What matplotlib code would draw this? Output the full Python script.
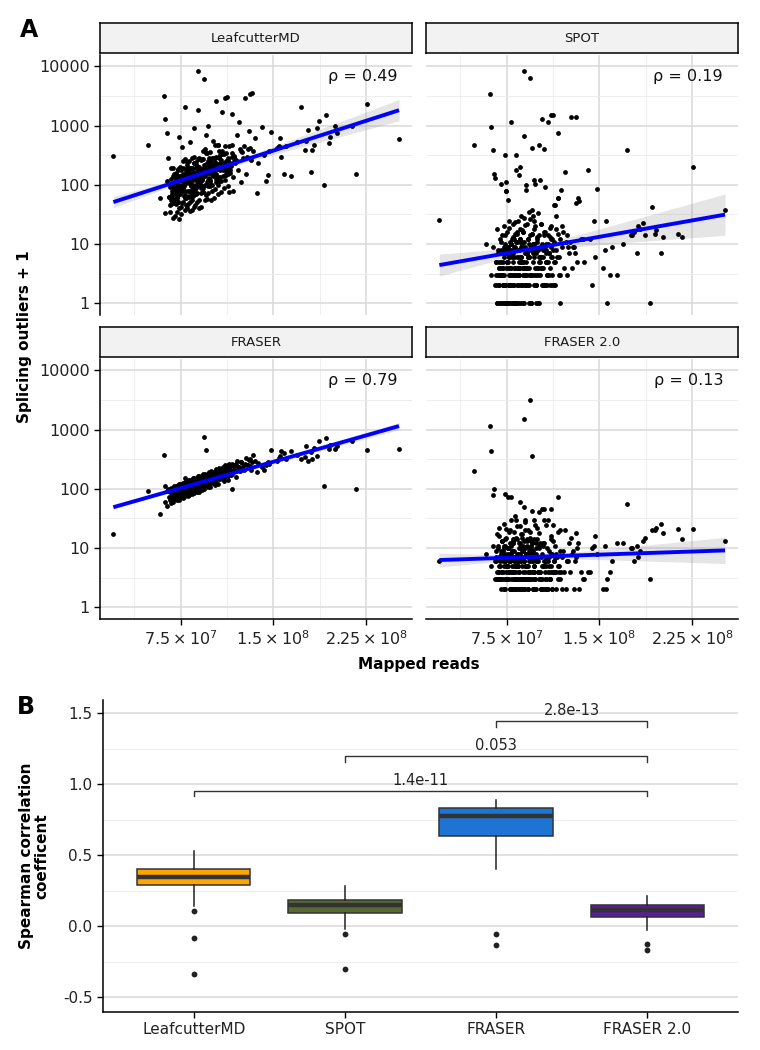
import numpy as np
import matplotlib.pyplot as plt
from matplotlib.ticker import FixedLocator, NullFormatter

# ---------------- data (panel A) ----------------
# mapped reads per sample, in millions (dense core, high outliers, sparse high-depth)
reads_m = [
    62.4, 64.1, 65.3, 66.0, 66.8, 67.5, 68.2, 68.9, 69.4, 69.8,
    70.3, 70.9, 71.4, 71.8, 72.2, 72.7, 73.1, 73.5, 73.9, 74.4,
    74.8, 75.2, 75.7, 76.1, 76.5, 76.9, 77.3, 77.8, 78.2, 78.6,
    79.0, 79.4, 79.9, 80.3, 80.6, 81.0, 81.4, 81.8, 82.1, 82.5,
    82.9, 83.3, 83.6, 84.0, 84.4, 84.8, 85.1, 85.5, 85.9, 86.3,
    86.7, 87.0, 87.4, 87.8, 88.2, 88.6, 89.0, 89.3, 89.7, 90.2,
    90.6, 91.1, 91.5, 92.0, 92.4, 92.9, 93.3, 93.8, 94.3, 94.7,
    95.2, 95.7, 96.1, 96.6, 97.1, 97.6, 98.1, 98.6, 99.2, 99.7,
    100.3, 100.9, 101.6, 102.2, 102.9, 103.5, 104.2, 104.9, 105.6, 106.4,
    107.1, 107.9, 108.7, 109.5, 110.3, 111.2, 112.0, 112.9, 113.8, 114.7,
    115.6, 116.6, 117.5, 118.5, 119.6, 120.6, 121.7, 122.9, 124.0, 125.2,
    126.5, 127.8, 129.2, 130.6, 132.1, 133.6, 135.2, 137.8, 66.3, 71.0,
    75.0, 79.6, 83.0, 86.0, 89.5, 93.0, 97.0, 101.0, 105.0, 110.0,
    68.5, 72.5, 76.3, 80.8, 84.6, 88.0, 91.8, 96.0, 103.0, 115.0,
    66.2, 67.1, 67.9, 68.6, 69.1, 69.6, 70.1, 70.6, 71.2, 71.6,
    72.0, 72.4, 72.9, 73.3, 73.7, 74.1, 74.6, 75.0, 75.4, 75.9,
    76.3, 76.7, 77.1, 77.5, 78.0, 78.4, 78.8, 79.2, 79.7, 80.1,
    80.4, 80.8, 81.2, 81.6, 82.0, 82.3, 82.7, 83.1, 83.5, 83.8,
    84.2, 84.6, 85.0, 85.3, 85.7, 86.1, 86.5, 86.9, 87.2, 87.6,
    88.0, 88.4, 88.8, 89.2, 89.5, 89.9, 90.4, 90.8, 91.3, 91.7,
    92.2, 92.6, 93.1, 93.5, 94.0, 94.5, 94.9, 95.4, 95.9, 96.4,
    96.9, 97.4, 97.9, 98.4, 98.9, 99.4, 100.0, 100.6, 101.3, 101.9,
    102.5, 103.2, 103.9, 104.6, 105.3, 106.0, 106.8, 107.5, 108.3, 109.1,
    110.0, 110.8, 111.6, 112.5, 113.4, 114.3, 115.2, 116.1, 117.0, 118.0,
    67.0, 69.0, 71.5, 73.0, 74.0, 75.5, 77.0, 78.5, 80.0, 81.5,
    83.2, 84.9, 86.6, 88.3, 90.0, 91.6, 93.4, 95.0, 96.8, 98.7,
    100.5, 102.6, 104.5, 106.7, 108.9, 111.0, 113.1, 119.0, 123.5, 128.5,
    68.0, 70.5, 72.8, 75.3, 77.6, 79.8, 82.2, 84.3, 86.4, 88.5,
    90.7, 92.8, 94.9, 97.2, 99.5, 101.8, 104.0, 106.2, 109.8, 113.6,
    69.3, 71.9, 74.2, 76.6, 78.9, 81.1, 83.4, 85.6, 87.9, 90.1,
    92.5, 94.6, 96.7, 98.8, 100.9, 103.4, 105.9, 108.0, 111.9, 116.3,
    70.8, 73.4, 76.0, 78.3, 80.6, 82.9, 85.2, 87.5, 89.8, 92.1,
    94.2, 96.3, 98.5, 100.7, 103.0, 105.4, 107.8, 110.5, 114.0, 120.0,
    65.6, 68.8, 72.2, 75.7, 79.1, 82.6, 86.2, 89.6, 93.2, 97.8,
    102.0, 106.5, 111.4, 117.8, 124.5, 131.0, 71.3, 77.9, 84.0, 91.0,
    # high outlier samples
    78.8, 88.9, 93.7, 103.8, 108.5, 111.2, 112.2, 116.7, 122.0, 127.0,
    130.8, 132.3, 95.2, 101.4, 105.0, 73.9, 82.3, 65.0, 76.2, 62.5,
    95.3, 97.0, 86.0, 88.6,
    # sparse samples
    20.5, 48.3, 58.3, 61.7, 63.9, 136.7, 140.5, 142.0, 143.7, 145.3,
    146.6, 147.8, 152.7, 154.2, 155.0, 156.0, 158.8, 160.0, 164.5, 169.0,
    172.3, 175.8, 176.4, 177.7, 180.4, 181.0, 182.6, 185.3, 187.0, 191.2,
    192.5, 195.2, 195.8, 199.8, 201.7, 213.6, 216.8, 226.0, 251.6,
]

leafcutter_y = [
    34, 118, 62, 92, 190, 48, 80, 28, 150, 56,
    95, 48, 130, 80, 35, 185, 68, 118, 27, 92,
    82, 175, 50, 120, 98, 250, 64, 145, 37, 105,
    145, 46, 125, 240, 78, 110, 185, 63, 133, 36,
    52, 190, 95, 145, 285, 72, 120, 42, 230, 85,
    140, 70, 195, 115, 52, 270, 100, 170, 40, 135,
    120, 260, 72, 180, 145, 380, 95, 215, 55, 155,
    210, 68, 180, 350, 115, 160, 280, 95, 200, 55,
    80, 290, 145, 215, 470, 110, 185, 70, 370, 135,
    230, 115, 330, 195, 90, 450, 170, 290, 75, 230,
    210, 480, 135, 310, 255, 700, 175, 400, 110, 290,
    450, 150, 400, 800, 260, 370, 620, 230, 45, 120,
    135, 60, 155, 230, 105, 75, 250, 140, 100, 330,
    58, 130, 80, 165, 65, 205, 115, 190, 280, 160,
    35, 125, 64, 95, 195, 50, 82, 30, 160, 60,
    100, 52, 140, 85, 40, 200, 70, 120, 32, 96,
    84, 190, 52, 128, 102, 270, 68, 150, 40, 110,
    150, 47, 128, 250, 80, 112, 195, 66, 140, 38,
    55, 195, 98, 150, 300, 74, 125, 45, 240, 90,
    145, 72, 200, 120, 55, 280, 105, 175, 42, 140,
    125, 270, 75, 190, 150, 400, 100, 225, 58, 160,
    220, 72, 190, 360, 120, 170, 290, 100, 210, 60,
    85, 300, 150, 225, 480, 115, 195, 75, 380, 140,
    235, 120, 340, 200, 95, 460, 180, 300, 80, 250,
    55, 140, 70, 180, 95, 42, 150, 80, 220, 65,
    100, 165, 72, 210, 130, 88, 270, 140, 200, 110,
    160, 240, 120, 320, 175, 145, 260, 230, 380, 300,
    70, 112, 52, 140, 95, 190, 125, 78, 160, 105,
    135, 90, 205, 120, 255, 165, 110, 300, 215, 150,
    100, 62, 125, 90, 170, 112, 80, 155, 95, 200,
    120, 180, 95, 230, 160, 125, 290, 200, 145, 340,
    82, 140, 100, 60, 125, 160, 90, 135, 110, 185,
    160, 110, 215, 150, 190, 135, 265, 210, 175, 260,
    62, 92, 118, 80, 138, 105, 155, 115, 170, 130,
    210, 175, 250, 300, 360, 420, 95, 110, 125, 150,
    2050, 8400, 6200, 2580, 1730, 2970, 3100, 1560, 1170, 2970,
    3390, 3540, 700, 560, 480, 650, 520, 280, 430, 1300,
    350, 1000, 900, 1860,
    310, 470, 60, 3200, 760, 73, 940, 320, 117, 147,
    380, 790, 420, 460, 614, 293, 152, 445, 140, 520,
    2080, 390, 560, 830, 167, 390, 465, 930, 1200, 98,
    1500, 516, 650, 990, 750, 1000, 152, 2350, 600,
]

spot_y = [
    3, 9, 2, 5, 18, 1, 7, 4, 12, 3,
    8, 1, 14, 4, 2, 20, 6, 10, 1, 7,
    4, 16, 1, 9, 6, 25, 3, 11, 2, 8,
    12, 3, 7, 22, 4, 6, 15, 1, 9, 3,
    1, 16, 4, 8, 25, 3, 6, 2, 12, 5,
    9, 2, 17, 5, 1, 28, 4, 11, 2, 7,
    5, 22, 3, 12, 8, 35, 2, 14, 1, 9,
    15, 3, 10, 30, 6, 8, 20, 2, 12, 4,
    3, 14, 6, 9, 22, 4, 8, 2, 16, 5,
    10, 3, 14, 7, 2, 20, 6, 11, 2, 8,
    6, 15, 3, 1, 9, 16, 4, 11, 3, 7,
    11, 4, 9, 7, 5, 54, 12, 5, 5, 4,
    8, 1, 11, 18, 3, 6, 25, 1, 9, 13,
    2, 9, 1, 12, 4, 16, 7, 10, 22, 30,
    3, 1, 8, 2, 5, 1, 11, 104, 4, 2,
    7, 1, 3, 14, 2, 114, 80, 5, 1, 9,
    2, 6, 19, 1, 4, 10, 3, 7, 1, 13,
    5, 2, 9, 24, 3, 178, 1, 6, 15, 4,
    2, 149, 8, 1, 12, 4, 30, 6, 2, 10,
    5, 16, 3, 1, 9, 21, 98, 81, 4, 7,
    12, 2, 6, 27, 3, 9, 1, 15, 5, 8,
    3, 18, 102, 7, 2, 11, 33, 4, 6, 121,
    6, 2, 9, 4, 14, 92, 5, 2, 10, 7,
    4, 12, 2, 8, 5, 45, 18, 61, 6, 3,
    2, 4, 3, 8, 1, 5, 3, 10, 2, 4,
    2, 5, 1, 3, 7, 2, 4, 1, 10, 3,
    1, 4, 2, 7, 3, 6, 2, 81, 14, 9,
    3, 5, 1, 7, 4, 2, 11, 3, 6, 4,
    4, 1, 8, 2, 13, 3, 6, 2, 19, 45,
    1, 5, 80, 2, 7, 3, 1, 11, 4, 2,
    6, 3, 10, 1, 5, 10, 2, 5, 12, 61,
    3, 2, 5, 4, 1, 8, 3, 11, 4, 6,
    3, 7, 2, 8, 4, 16, 3, 9, 5, 20,
    133, 3, 2, 4, 6, 1, 5, 3, 10, 4,
    5, 8, 3, 12, 9, 50, 3, 2, 4, 7,
    1140, 8400, 6450, 1290, 1170, 1500, 1500, 750, 165, 1410,
    1410, 60, 425, 470, 405, 316, 316, 150, 55, 940,
    38, 120, 200, 670,
    26, 465, 10, 3400, 390, 12, 177, 12, 2, 25,
    6, 86, 4, 8, 25, 1, 3, 9, 3, 10,
    385, 14, 14, 16, 7, 20, 18, 23, 14, 1,
    42, 15, 17, 7, 13, 15, 13, 203, 38,
]

fraser_y = [
    60, 92, 72, 88, 58, 104, 82, 71, 98, 82,
    98, 70, 108, 83, 66, 118, 89, 78, 104, 87,
    76, 115, 88, 106, 70, 128, 98, 86, 118, 97,
    84, 126, 97, 115, 77, 142, 108, 93, 128, 104,
    90, 136, 104, 124, 83, 152, 116, 100, 137, 112,
    97, 146, 112, 134, 89, 163, 125, 108, 148, 122,
    106, 158, 122, 146, 97, 178, 136, 118, 162, 133,
    115, 172, 133, 160, 106, 194, 150, 130, 178, 147,
    127, 190, 147, 176, 118, 217, 166, 145, 200, 166,
    145, 218, 168, 203, 134, 250, 192, 167, 230, 198,
    172, 260, 198, 240, 160, 296, 232, 200, 280, 240,
    211, 330, 250, 305, 210, 375, 296, 275, 70, 104,
    115, 84, 130, 104, 150, 112, 170, 135, 200, 160,
    70, 108, 82, 125, 96, 145, 112, 168, 140, 245,
    64, 96, 74, 90, 60, 110, 84, 72, 104, 84,
    71, 108, 82, 100, 66, 120, 90, 78, 112, 92,
    79, 118, 91, 108, 72, 130, 100, 86, 120, 100,
    85, 128, 98, 118, 78, 142, 108, 94, 130, 108,
    92, 138, 106, 127, 84, 153, 116, 101, 140, 117,
    99, 149, 114, 137, 90, 165, 127, 110, 150, 126,
    108, 162, 124, 150, 98, 180, 138, 120, 164, 138,
    118, 178, 136, 164, 108, 200, 152, 133, 183, 155,
    132, 200, 154, 185, 122, 226, 172, 152, 210, 176,
    153, 232, 178, 214, 142, 265, 205, 180, 246, 212,
    100, 68, 112, 78, 106, 72, 120, 85, 124, 92,
    92, 136, 100, 150, 104, 160, 118, 170, 125, 180,
    190, 140, 210, 150, 230, 165, 255, 210, 290, 250,
    95, 74, 110, 82, 120, 90, 132, 98, 140, 108,
    110, 160, 122, 175, 130, 195, 150, 210, 160, 235,
    68, 104, 76, 112, 85, 125, 95, 138, 104, 150,
    150, 118, 165, 130, 182, 145, 205, 160, 225, 190,
    100, 78, 112, 86, 122, 96, 135, 104, 148, 115,
    122, 170, 135, 185, 145, 205, 160, 225, 180, 265,
    92, 70, 104, 80, 118, 90, 132, 102, 148, 118,
    140, 205, 170, 250, 220, 320, 78, 118, 100, 150,
    150, 140, 750, 170, 190, 200, 185, 100, 230, 260,
    240, 290, 452, 160, 175, 120, 130, 100, 95, 110,
    135, 150, 120, 130,
    17, 91, 37, 380, 51, 190, 230, 210, 250, 280,
    260, 447, 300, 330, 360, 436, 400, 320, 436, 380,
    314, 340, 525, 300, 420, 322, 500, 357, 645, 114,
    720, 475, 560, 475, 520, 645, 100, 452, 465,
]

fraser2_y = [
    5, 11, 3, 7, 17, 4, 10, 22, 3, 6,
    9, 4, 13, 3, 6, 26, 5, 11, 3, 15,
    7, 3, 10, 5, 19, 4, 12, 6, 30, 2,
    9, 4, 12, 3, 6, 19, 2, 7, 35, 5,
    3, 8, 14, 2, 5, 10, 4, 24, 6, 11,
    2, 7, 17, 4, 9, 3, 13, 6, 30, 5,
    8, 3, 11, 2, 20, 6, 4, 15, 7, 9,
    4, 12, 2, 8, 5, 25, 3, 10, 6, 14,
    7, 3, 12, 4, 2, 8, 5, 30, 3, 6,
    5, 10, 2, 7, 3, 16, 2, 6, 11, 4,
    7, 3, 5, 20, 2, 9, 4, 2, 6, 12,
    4, 8, 2, 6, 10, 2, 4, 3, 9, 13,
    3, 7, 5, 12, 2, 9, 4, 18, 6, 3,
    5, 2, 10, 4, 7, 3, 13, 6, 2, 8,
    6, 3, 11, 4, 16, 5, 8, 2, 13, 7,
    4, 10, 2, 14, 6, 5, 21, 3, 8, 3,
    10, 4, 6, 2, 20, 3, 8, 5, 2, 13,
    4, 9, 3, 7, 2, 15, 5, 24, 3, 6,
    8, 2, 12, 4, 6, 3, 17, 2, 9, 5,
    3, 11, 6, 2, 28, 4, 8, 3, 14, 5,
    7, 2, 10, 4, 19, 3, 6, 12, 2, 9,
    5, 14, 3, 8, 2, 22, 4, 7, 11, 3,
    7, 3, 5, 2, 12, 4, 25, 2, 6, 9,
    3, 5, 2, 13, 4, 7, 2, 19, 4, 3,
    3, 7, 4, 11, 2, 5, 8, 4, 14, 6,
    6, 3, 10, 2, 5, 8, 3, 13, 4, 7,
    6, 3, 11, 2, 5, 8, 4, 4, 6, 9,
    4, 3, 8, 5, 2, 12, 4, 7, 3, 9,
    5, 3, 11, 2, 7, 3, 12, 2, 4, 6,
    3, 9, 4, 6, 2, 14, 5, 8, 3, 20,
    4, 10, 2, 6, 10, 2, 6, 4, 8, 5,
    4, 6, 3, 11, 5, 2, 7, 15, 3, 5,
    8, 3, 12, 4, 2, 5, 3, 14, 4, 7,
    6, 3, 8, 4, 9, 3, 6, 10, 3, 7,
    4, 7, 4, 9, 6, 7, 4, 6, 5, 8,
    72, 1540, 3140, 46, 30, 46, 25, 74, 20, 15,
    18, 12, 356, 40, 46, 83, 30, 100, 72, 436,
    42, 30, 60, 50,
    6, 200, 8, 1150, 79, 3, 4, 4, 10, 11,
    16, 8, 2, 11, 2, 3, 4, 6, 12, 12,
    55, 10, 10, 6, 11, 7, 9, 13, 15, 3,
    20, 20, 22, 26, 18, 21, 14, 21, 13,
]

methods = ["LeafcutterMD", "SPOT", "FRASER", "FRASER 2.0"]
rho_labels = ["0.49", "0.19", "0.79", "0.13"]
x_ticks = [7.5e7, 1.5e8, 2.25e8]
x_ticklabels = [r"$7.5\times10^{7}$", r"$1.5\times10^{8}$", r"$2.25\times10^{8}$"]
y_ticks = [1, 10, 100, 1000, 10000]

# ---------------- data (panel B) ----------------
rho_leafcutter = [-0.338, -0.082, 0.105, 0.141, 0.22, 0.289, 0.30, 0.32, 0.33, 0.34, 0.35,
                  0.36, 0.37, 0.38, 0.395, 0.406, 0.42, 0.44, 0.47, 0.50, 0.528]
rho_spot = [-0.305, -0.054, -0.023, 0.03, 0.07, 0.092, 0.10, 0.115, 0.13, 0.14, 0.15,
            0.155, 0.16, 0.17, 0.18, 0.186, 0.20, 0.22, 0.24, 0.26, 0.286]
rho_fraser = [-0.134, -0.054, 0.406, 0.50, 0.58, 0.634, 0.66, 0.70, 0.73, 0.755, 0.775,
              0.785, 0.795, 0.805, 0.82, 0.831, 0.845, 0.855, 0.865, 0.88, 0.892]
rho_fraser2 = [-0.171, -0.124, -0.028, 0.01, 0.04, 0.063, 0.075, 0.085, 0.095, 0.105, 0.115,
               0.12, 0.128, 0.135, 0.145, 0.153, 0.165, 0.175, 0.19, 0.20, 0.211]
box_colors = ["#FFA500", "#556B2F", "#1E74D2", "#5A1E9C"]
# (group i, group j, bracket height, label)
comparisons = [(1, 4, 0.955, "1.4e-11"), (2, 4, 1.20, "0.053"), (3, 4, 1.448, "2.8e-13")]

# ---------------- figure ----------------
W, H = 760, 1050
fig = plt.figure(figsize=(W / 100, H / 100), dpi=100)


def px_axes(l, t, r, b):
    return fig.add_axes([l / W, 1 - b / H, (r - l) / W, (b - t) / H])


x = np.array(reads_m) * 1e6
ys = [leafcutter_y, spot_y, fraser_y, fraser2_y]
cols = [(100, 412), (426, 738)]
rows = [(55, 315), (359, 619)]

for k, (name, yv, rho) in enumerate(zip(methods, ys, rho_labels)):
    r, c = divmod(k, 2)
    l, rr = cols[c]
    t, b = rows[r]
    ax = px_axes(l, t, rr, b)
    y = np.array(yv, dtype=float)

    ax.set_yscale("log")
    ax.set_xlim(9.7e6, 262.1e6)
    ax.set_ylim(10 ** -0.198, 10 ** 4.194)
    ax.xaxis.set_major_locator(FixedLocator(x_ticks))
    ax.xaxis.set_minor_locator(FixedLocator([3.75e7, 1.125e8, 1.875e8, 2.625e8]))
    ax.yaxis.set_major_locator(FixedLocator(y_ticks))
    ax.yaxis.set_minor_locator(FixedLocator([10 ** (v + 0.5) for v in range(-1, 5)]))
    ax.yaxis.set_minor_formatter(NullFormatter())
    ax.set_xticklabels(x_ticklabels)
    ax.set_yticklabels([str(v) for v in y_ticks])
    ax.grid(which="major", color="#D9D9D9", lw=1.1)
    ax.grid(which="minor", color="#EBEBEB", lw=0.6)
    ax.set_axisbelow(True)
    ax.tick_params(which="minor", length=0)
    ax.tick_params(which="major", length=4, width=1, color="black",
                   labelsize=11.5, labelcolor="#222222")
    for s in ax.spines.values():
        s.set_visible(False)
    if c == 0:
        ax.spines["left"].set_visible(True)
        ax.spines["left"].set_linewidth(1.1)
    else:
        ax.tick_params(left=False, labelleft=False)
    if r == 1:
        ax.spines["bottom"].set_visible(True)
        ax.spines["bottom"].set_linewidth(1.1)
    else:
        ax.tick_params(bottom=False, labelbottom=False)

    # linear fit on the log10 scale with a 95% band
    ly = np.log10(y)
    slope, icpt = np.polyfit(x, ly, 1)
    xg = np.linspace(x.min(), x.max(), 80)
    n = len(x)
    resid = ly - (slope * x + icpt)
    s_err = np.sqrt(np.sum(resid ** 2) / (n - 2))
    se = s_err * np.sqrt(1 / n + (xg - x.mean()) ** 2 / np.sum((x - x.mean()) ** 2))
    fit = slope * xg + icpt
    ax.fill_between(xg, 10 ** (fit - 1.97 * se), 10 ** (fit + 1.97 * se),
                    color="#999999", alpha=0.25, lw=0, zorder=2)
    ax.scatter(x, y, s=12, color="black", linewidths=0, zorder=3)
    ax.plot(xg, 10 ** fit, color="#0000FF", lw=2.8, zorder=4, solid_capstyle="butt")
    ax.text(0.952, 0.918, "\u03c1 = " + rho, transform=ax.transAxes,
            ha="right", va="center", fontsize=11.5, color="#111111")

    st = px_axes(l, t - 32, rr, t - 2)
    st.set_facecolor("#F2F2F2")
    st.set_xticks([])
    st.set_yticks([])
    for s in st.spines.values():
        s.set_linewidth(1.1)
        s.set_color("black")
    st.text(0.5, 0.5, name, ha="center", va="center", fontsize=9.5, color="#1A1A1A")

fig.text(25 / W, 1 - 337 / H, "Splicing outliers + 1", rotation=90, ha="center",
         va="center", fontsize=11, fontweight="bold")
fig.text(419 / W, 1 - 665 / H, "Mapped reads", ha="center", va="center",
         fontsize=11, fontweight="bold")
fig.text(29 / W, 1 - 30 / H, "A", ha="center", va="center", fontsize=17, fontweight="bold")
fig.text(26 / W, 1 - 707 / H, "B", ha="center", va="center", fontsize=17, fontweight="bold")

# ---------------- panel B ----------------
axb = px_axes(103, 700, 738, 1012)
data_b = [rho_leafcutter, rho_spot, rho_fraser, rho_fraser2]
bp = axb.boxplot(data_b, positions=[1, 2, 3, 4], widths=0.75, patch_artist=True,
                 whis=1.5,
                 medianprops=dict(color="#333333", lw=3.2),
                 boxprops=dict(edgecolor="#333333", lw=1.1),
                 whiskerprops=dict(color="#222222", lw=1.1),
                 capprops=dict(lw=0),
                 flierprops=dict(marker="o", markerfacecolor="#222222",
                                 markeredgecolor="none", markersize=4.2))
for patch, col in zip(bp["boxes"], box_colors):
    patch.set_facecolor(col)
axb.set_xlim(0.4, 4.6)
axb.set_ylim(-0.605, 1.595)
axb.set_xticks([1, 2, 3, 4])
axb.set_xticklabels(methods)
axb.set_yticks([-0.5, 0.0, 0.5, 1.0, 1.5])
axb.set_yticklabels(["-0.5", "0.0", "0.5", "1.0", "1.5"])
axb.yaxis.set_minor_locator(FixedLocator([-0.25, 0.25, 0.75, 1.25]))
axb.grid(axis="y", which="major", color="#D9D9D9", lw=1.1)
axb.grid(axis="y", which="minor", color="#EBEBEB", lw=0.6)
axb.set_axisbelow(True)
axb.tick_params(which="minor", length=0)
axb.tick_params(which="major", length=4, width=1, labelsize=11, labelcolor="#222222")
axb.spines["top"].set_visible(False)
axb.spines["right"].set_visible(False)
axb.spines["left"].set_linewidth(1.1)
axb.spines["bottom"].set_linewidth(1.1)
axb.set_ylabel("Spearman correlation\ncoefficent", fontsize=11, fontweight="bold",
               linespacing=1.0, labelpad=10)

for i, j, h, lab in comparisons:
    axb.plot([i, i, j, j], [h - 0.04, h, h, h - 0.04], color="#333333", lw=1.0)
    axb.text((i + j) / 2, h + 0.02, lab, ha="center", va="bottom", fontsize=10.5,
             color="#222222")

fig.savefig("out.png", dpi=100)
